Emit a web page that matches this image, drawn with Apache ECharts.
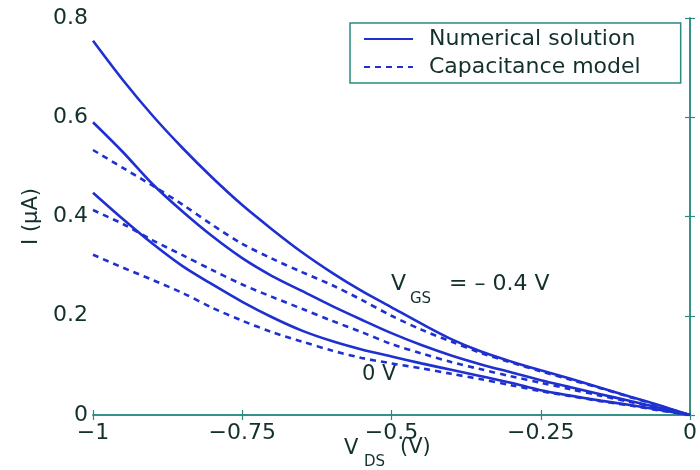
<!DOCTYPE html>
<html>
<head>
<meta charset="utf-8">
<script src="https://cdn.jsdelivr.net/npm/echarts@6/dist/echarts.min.js"></script>
<style>
  html, body { margin: 0; padding: 0; background: #fff; }
  #main { width: 700px; height: 470px; }
</style>
</head>
<body>
<div id="main"></div>
<script>
// drain-source voltage (V)
var vds = [-1, -0.95, -0.9, -0.85, -0.8, -0.75, -0.7, -0.65, -0.6, -0.55, -0.5,
  -0.45, -0.4, -0.35, -0.3, -0.25, -0.2, -0.15, -0.1, -0.05, 0];

// numerical solution, current in uA
var numTop = [0.754, 0.675, 0.603, 0.538, 0.478, 0.423, 0.374, 0.328, 0.287, 0.25, 0.217,
  0.184, 0.153, 0.128, 0.108, 0.09, 0.073, 0.055, 0.037, 0.019, 0];
var numMid = [0.59, 0.53, 0.465, 0.41, 0.36, 0.316, 0.28, 0.25, 0.22, 0.192, 0.165,
  0.141, 0.12, 0.102, 0.086, 0.07, 0.056, 0.042, 0.028, 0.014, 0];
var numLow = [0.448, 0.395, 0.345, 0.3, 0.263, 0.228, 0.197, 0.17, 0.149, 0.132, 0.118,
  0.104, 0.091, 0.078, 0.065, 0.05, 0.039, 0.029, 0.02, 0.01, 0];

// capacitance model
var capTop = [0.534, 0.498, 0.462, 0.424, 0.383, 0.345, 0.315, 0.288, 0.262, 0.232, 0.2,
  0.172, 0.148, 0.125, 0.106, 0.088, 0.071, 0.054, 0.036, 0.018, 0];
var capMid = [0.413, 0.385, 0.352, 0.322, 0.292, 0.263, 0.238, 0.214, 0.19, 0.167, 0.143,
  0.124, 0.107, 0.092, 0.078, 0.065, 0.052, 0.039, 0.026, 0.013, 0];
var capLow = [0.323, 0.297, 0.272, 0.246, 0.216, 0.19, 0.167, 0.148, 0.13, 0.115, 0.104,
  0.094, 0.083, 0.072, 0.06, 0.048, 0.038, 0.028, 0.019, 0.009, 0];

var xTicks = [-1, -0.75, -0.5, -0.25, 0];
var yTicks = [0, 0.2, 0.4, 0.6, 0.8];

var frameColor = "#2a8a82";
var textColor = "#12302c";
var lineColor = "#1f30d0";
var font = "DejaVu Sans";

function pairs(ys) {
  return vds.map(function (x, i) { return [x, ys[i]]; });
}

function curve(name, ys, dashed) {
  return {
    name: name,
    type: "line",
    data: pairs(ys),
    symbol: "none",
    smooth: 0.3,
    lineStyle: { color: lineColor, width: 2.6, type: dashed ? [6, 5] : "solid" },
    itemStyle: { color: lineColor },
    silent: true,
  };
}

var axisBase = {
  axisLine: { show: true, lineStyle: { color: frameColor, width: 1.5 } },
  axisTick: { show: true, inside: true, length: 5, lineStyle: { color: frameColor, width: 1.2 } },
  splitLine: { show: false },
};

var myChart = echarts.init(document.getElementById("main"));
myChart.setOption({
  animation: false,
  grid: { left: 93, right: 10, top: 18, bottom: 55 },
  legend: {
    left: 350,
    top: 23,
    orient: "vertical",
    data: ["Numerical solution", "Capacitance model"],
    itemWidth: 49,
    itemHeight: 14,
    itemGap: 6,
    padding: [5, 40, 5, 13],
    borderColor: frameColor,
    borderWidth: 1.5,
    backgroundColor: "#fff",
    itemStyle: { opacity: 0 },
    lineStyle: { width: 2 },
    textStyle: { fontFamily: font, fontSize: 22, color: textColor, padding: [0, 0, 0, 11] },
  },
  xAxis: [
    Object.assign({}, axisBase, {
      type: "value",
      min: -1,
      max: 0,
      interval: 0.25,
      axisLabel: {
        margin: 7,
        fontFamily: font,
        fontSize: 22,
        color: textColor,
        formatter: function (v) { return xTicks.indexOf(v) < 0 ? "" : String(v).replace("-", "\u2212"); },
      },
    }),
    Object.assign({}, axisBase, {
      type: "value",
      position: "top",
      min: -1,
      max: 0,
      interval: 0.25,
      axisLabel: { show: false },
    }),
  ],
  yAxis: [
    Object.assign({}, axisBase, {
      type: "value",
      min: 0,
      max: 0.8,
      interval: 0.2,
      name: "I (\u03bcA)",
      nameLocation: "middle",
      nameGap: 45,
      nameTextStyle: { fontFamily: font, fontSize: 21, color: textColor },
      axisLabel: {
        margin: 5,
        fontFamily: font,
        fontSize: 22,
        color: textColor,
        formatter: function (v) { return yTicks.indexOf(v) < 0 ? "" : String(v); },
      },
    }),
    Object.assign({}, axisBase, {
      type: "value",
      position: "right",
      min: 0,
      max: 0.8,
      interval: 0.2,
      axisLabel: { show: false },
    }),
  ],
  series: [
    curve("Numerical solution", numTop, false),
    curve("Numerical solution", numMid, false),
    curve("Numerical solution", numLow, false),
    curve("Capacitance model", capTop, true),
    curve("Capacitance model", capMid, true),
    curve("Capacitance model", capLow, true),
  ],
  graphic: [
    // x axis title V_DS (V)
    { type: "text", left: 344, top: 438, style: { text: "V", font: "21px " + font, fill: textColor } },
    { type: "text", left: 364, top: 455, style: { text: "DS", font: "15px " + font, fill: textColor } },
    { type: "text", left: 400, top: 437, style: { text: "(V)", font: "21px " + font, fill: textColor } },
    // curve labels
    { type: "text", left: 391, top: 273, style: { text: "V", font: "22px " + font, fill: textColor } },
    { type: "text", left: 410, top: 292, style: { text: "GS", font: "15px " + font, fill: textColor } },
    { type: "text", left: 449, top: 273, style: { text: "= \u2013 0.4 V", font: "22px " + font, fill: textColor } },
    { type: "text", left: 362, top: 364, style: { text: "0 V", font: "21px " + font, fill: textColor } },
  ],
});
</script>
</body>
</html>
